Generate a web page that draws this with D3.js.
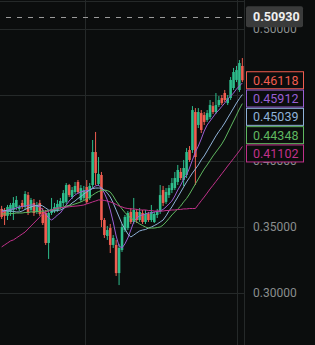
<!DOCTYPE html>
<html>
<head>
<meta charset="utf-8">
<script src="https://cdn.jsdelivr.net/npm/d3@7/dist/d3.min.js"></script>
<style>
	body{margin:0;background:#0b0d0d;}
	svg{display:block;}
</style>
</head>
<body>
<div id="chartHolder"></div>
<script>
// candles
var opens = [.3637,.3621,.3584,.3614,.3629,.3652,.3637,.3682,.3652,.3742, .3629,.3682,.3614,.3682,.3614,.3606,.3379,.3606,.3621,.3629,
	.3652,.3682,.3690,.3818,.3727,.3765,.3841,.3705,.3720,.3803, .3720,.3818,.4068,.3826,.3894,.3553,.3432,.3492,.3364,.3364,
	.3151,.3326,.3477,.3492,.3614,.3538,.3614,.3553,.3606,.3538, .3599,.3553,.3538,.3591,.3614,.3780,.3690,.3742,.3780,.3795,
	.3841,.3917,.3856,.3894,.4083,.4083,.4371,.4273,.4363,.4348, .4311,.4333,.4416,.4371,.4424,.4477,.4515,.4439,.4477,.4553,
	.4614,.4538,.4720];
var closes = [.3576,.3584,.3652,.3667,.3682,.3705,.3652,.3652,.3750,.3606, .3705,.3606,.3667,.3599,.3530,.3379,.3606,.3637,.3652,.3675,
	.3697,.3757,.3818,.3742,.3780,.3811,.3765,.3795,.3780,.3690, .3811,.4068,.3909,.3902,.3553,.3439,.3477,.3364,.3417,.3151,
	.3341,.3500,.3576,.3606,.3538,.3629,.3553,.3614,.3538,.3599, .3553,.3614,.3599,.3614,.3742,.3682,.3765,.3795,.3833,.3871,
	.3932,.3871,.3947,.4068,.4008,.4386,.4030,.4371,.4235,.4296, .4363,.4424,.4371,.4424,.4462,.4439,.4462,.4477,.4614,.4674,
	.4689,.4742,.46118];
var highs = [.3660,.3644,.3667,.3682,.3727,.3735,.3667,.3705,.3772,.3765, .3720,.3712,.3690,.3705,.3644,.3629,.3629,.3720,.3682,.3705,
	.3720,.3780,.3833,.3826,.3803,.3841,.3856,.3818,.3811,.3856, .3833,.4159,.4220,.4030,.3917,.3568,.3508,.3523,.3439,.3402,
	.3372,.3523,.3591,.3621,.3644,.3720,.3637,.3644,.3629,.3629, .3614,.3667,.3614,.3637,.3818,.3811,.3795,.3818,.3871,.3917,
	.3970,.3947,.4008,.4098,.4113,.4416,.4401,.4401,.4386,.4371, .4386,.4462,.4447,.4515,.4492,.4500,.4538,.4500,.4636,.4705,
	.4720,.4765,.4780];
var lows = [.3561,.3515,.3553,.3584,.3553,.3629,.3621,.3637,.3629,.3591, .3614,.3584,.3599,.3584,.3515,.3364,.3258,.3591,.3606,.3614,
	.3637,.3659,.3675,.3727,.3712,.3750,.3750,.3690,.3705,.3675, .3705,.3795,.3818,.3811,.3500,.3417,.3402,.3303,.3341,.3129,
	.3060,.3311,.3462,.3477,.3523,.3523,.3530,.3538,.3523,.3523, .3538,.3538,.3530,.3568,.3599,.3659,.3675,.3720,.3757,.3780,
	.3818,.3856,.3811,.3871,.3993,.4061,.3818,.4250,.4212,.4273, .4296,.4318,.4356,.4356,.4409,.4424,.4447,.4424,.4462,.4538,
	.4598,.4523,.4598];

// moving average lines
var maFast = [.3614,.3621,.3629,.3633,.3637,.3644,.3652,.3656,.3659,.3663, .3667,.3667,.3659,.3652,.3629,.3599,.3568,.3553,.3568,.3591,
	.3606,.3637,.3667,.3697,.3720,.3742,.3757,.3765,.3772,.3776, .3780,.3795,.3811,.3818,.3795,.3757,.3705,.3629,.3538,.3432,
	.3356,.3341,.3372,.3417,.3477,.3538,.3568,.3584,.3591,.3599, .3606,.3606,.3614,.3618,.3621,.3633,.3652,.3675,.3697,.3735,
	.3780,.3818,.3864,.3894,.3947,.4008,.4068,.4113,.4167,.4227, .4273,.4303,.4333,.4363,.4386,.4413,.4439,.4470,.4492,.4515,
	.4545,.4568,.45912];
var maMid = [.3629,.3625,.3621,.3621,.3618,.3614,.3614,.3621,.3633,.3644, .3652,.3659,.3663,.3667,.3659,.3644,.3629,.3621,.3621,.3625,
	.3629,.3640,.3652,.3663,.3682,.3697,.3716,.3731,.3750,.3765, .3780,.3791,.3795,.3795,.3795,.3780,.3757,.3727,.3682,.3629,
	.3576,.3523,.3485,.3447,.3424,.3439,.3455,.3470,.3477,.3481, .3492,.3500,.3511,.3523,.3538,.3553,.3584,.3621,.3652,.3690,
	.3727,.3765,.3803,.3841,.3875,.3909,.3939,.3970,.4008,.4038, .4076,.4114,.4152,.4190,.4224,.4254,.4288,.4326,.4363,.4401,
	.4439,.4473,.45039];
var maSlow = [.3599,.3599,.3599,.3602,.3602,.3606,.3606,.3606,.3610,.3610, .3614,.3614,.3618,.3618,.3621,.3621,.3625,.3629,.3637,.3640,
	.3644,.3652,.3659,.3663,.3667,.3675,.3682,.3690,.3701,.3712, .3727,.3742,.3757,.3769,.3776,.3780,.3776,.3765,.3735,.3697,
	.3667,.3637,.3610,.3587,.3568,.3553,.3538,.3523,.3511,.3500, .3492,.3492,.3492,.3496,.3500,.3515,.3538,.3564,.3591,.3614,
	.3637,.3659,.3690,.3716,.3750,.3788,.3826,.3864,.3902,.3939, .3970,.4004,.4038,.4068,.4098,.4129,.4167,.4212,.4258,.4303,
	.4348,.4394,.44348];
var maLong = [.3349,.3364,.3379,.3394,.3402,.3417,.3432,.3447,.3462,.3485, .3508,.3530,.3553,.3576,.3599,.3614,.3621,.3629,.3637,.3644,
	.3646,.3648,.3651,.3653,.3656,.3658,.3660,.3663,.3667,.3675, .3682,.3690,.3697,.3705,.3705,.3701,.3697,.3690,.3682,.3671,
	.3659,.3652,.3644,.3640,.3637,.3637,.3633,.3629,.3629,.3629, .3625,.3625,.3621,.3621,.3621,.3621,.3625,.3625,.3629,.3629,
	.3633,.3633,.3637,.3637,.3640,.3640,.3640,.3670,.3699,.3727, .3757,.3788,.3816,.3845,.3874,.3903,.3932,.3962,.3990,.4019,
	.4048,.4077,.41102];

var priceTicks = [0.30, 0.35, 0.40, 0.45, 0.50];
var timeTicks = [28, 80];
var markPrice = 0.50930;

var upColor = "#2ebd8c";
var downColor = "#f05d50";
var maLines = [
	{values: maFast, color: "#9a5fd4"},
	{values: maMid, color: "#8fb2d8"},
	{values: maSlow, color: "#5fb760"},
	{values: maLong, color: "#c0318a"}
];

var width = 315;
var height = 345;
var plotRight = 244;
var gridColor = "#252929";

var svg = d3.select("#chartHolder")
			.append("svg")
			.attr("width", width)
			.attr("height", height);

var x = d3.scaleBand()
			.domain(d3.range(closes.length))
			.range([0, plotRight])
			.padding(0.12);
var y = d3.scaleLinear()
			.domain([0.30, 0.50])
			.range([293, 29]);
var bw = x.bandwidth();
function cx(i){ return x(i) + bw/2; }

/***************************************************************************************/
// grid
svg.append("g")
	.selectAll("line")
	.data(priceTicks)
	.enter().append("line")
	.attr("x1", 0).attr("x2", plotRight)
	.attr("y1", function(d){ return Math.round(y(d)) + 0.5; })
	.attr("y2", function(d){ return Math.round(y(d)) + 0.5; })
	.attr("stroke", gridColor);

svg.append("line")
	.attr("x1", 0).attr("x2", plotRight)
	.attr("y1", 1.5).attr("y2", 1.5)
	.attr("stroke", gridColor);

svg.append("g")
	.selectAll("line")
	.data(timeTicks)
	.enter().append("line")
	.attr("x1", function(d){ return Math.round(cx(d)) + 1.5; })
	.attr("x2", function(d){ return Math.round(cx(d)) + 1.5; })
	.attr("y1", 0).attr("y2", height)
	.attr("stroke", gridColor);

// dashed mark line
svg.append("line")
	.attr("x1", 0).attr("x2", plotRight)
	.attr("y1", Math.round(y(markPrice)) + 0.5)
	.attr("y2", Math.round(y(markPrice)) + 0.5)
	.attr("stroke", "#9a9a9a")
	.attr("stroke-dasharray", "5,6")
	.attr("stroke-dashoffset", 5);

/***************************************************************************************/
// candles
var candles = svg.append("g")
			.selectAll("g")
			.data(d3.range(closes.length))
			.enter().append("g");

candles.append("line")
	.attr("x1", function(i){ return cx(i); })
	.attr("x2", function(i){ return cx(i); })
	.attr("y1", function(i){ return y(highs[i]); })
	.attr("y2", function(i){ return y(lows[i]); })
	.attr("stroke", function(i){ return closes[i] >= opens[i] ? upColor : downColor; })
	.attr("stroke-width", 1);

candles.append("rect")
	.attr("x", function(i){ return x(i); })
	.attr("width", bw)
	.attr("y", function(i){ return y(Math.max(opens[i], closes[i])); })
	.attr("height", function(i){ return Math.max(1, Math.abs(y(opens[i]) - y(closes[i]))); })
	.attr("fill", function(i){ return closes[i] >= opens[i] ? upColor : downColor; });

// moving averages
var line = d3.line()
			.x(function(d, i){ return cx(i); })
			.y(function(d){ return y(d); });

maLines.forEach(function(m){
	svg.append("path")
		.attr("d", line(m.values))
		.attr("fill", "none")
		.attr("stroke", m.color)
		.attr("stroke-width", 1);
});

/***************************************************************************************/
// right axis
svg.append("line")
	.attr("x1", plotRight + 0.5).attr("x2", plotRight + 0.5)
	.attr("y1", 0).attr("y2", height)
	.attr("stroke", gridColor);

var axis = svg.append("g")
			.attr("transform", "translate(" + (plotRight + 9) + ",0)")
			.call(d3.axisRight(y)
				.tickValues(priceTicks)
				.tickSize(0)
				.tickPadding(0)
				.tickFormat(d3.format(".5f")));
axis.select(".domain").remove();
axis.selectAll("text")
	.style("font-family", "Roboto, 'Liberation Sans', sans-serif")
	.style("font-size", "12px")
	.attr("fill", "#8a8d8e");

// value boxes, stacked so they do not overlap
var last = closes.length - 1;
var boxes = [{v: closes[last], color: downColor}].concat(maLines.map(function(m){
	return {v: m.values[last], color: m.color};
}));
boxes.sort(function(a, b){ return b.v - a.v; });
var prev = -100;
boxes.forEach(function(b){
	b.cy = Math.max(y(b.v), prev + 18.3);
	prev = b.cy;
});

var boxG = svg.append("g")
			.selectAll("g")
			.data(boxes)
			.enter().append("g");
boxG.append("rect")
	.attr("x", plotRight + 2.5)
	.attr("y", function(d){ return d.cy - 8.5; })
	.attr("width", 57)
	.attr("height", 17)
	.attr("fill", "#0b0d0d")
	.attr("stroke", function(d){ return d.color; });
boxG.append("text")
	.attr("x", plotRight + 9)
	.attr("y", function(d){ return d.cy; })
	.attr("dy", "0.36em")
	.style("font-family", "Roboto, 'Liberation Sans', sans-serif")
	.style("font-size", "12.5px")
	.attr("fill", function(d){ return d.color; })
	.text(function(d){ return d3.format(".5f")(d.v); });

// mark price tag
svg.append("rect")
	.attr("x", plotRight + 2)
	.attr("y", y(markPrice) - 10.5)
	.attr("width", 57)
	.attr("height", 21)
	.attr("rx", 2)
	.attr("fill", "#3a3b3b");
svg.append("text")
	.attr("x", plotRight + 9)
	.attr("y", y(markPrice))
	.attr("dy", "0.36em")
	.style("font-family", "Roboto, 'Liberation Sans', sans-serif")
	.style("font-size", "12.5px")
	.style("font-weight", "bold")
	.attr("fill", "#f0f0f0")
	.text(d3.format(".5f")(markPrice));
</script>
</body>
</html>
